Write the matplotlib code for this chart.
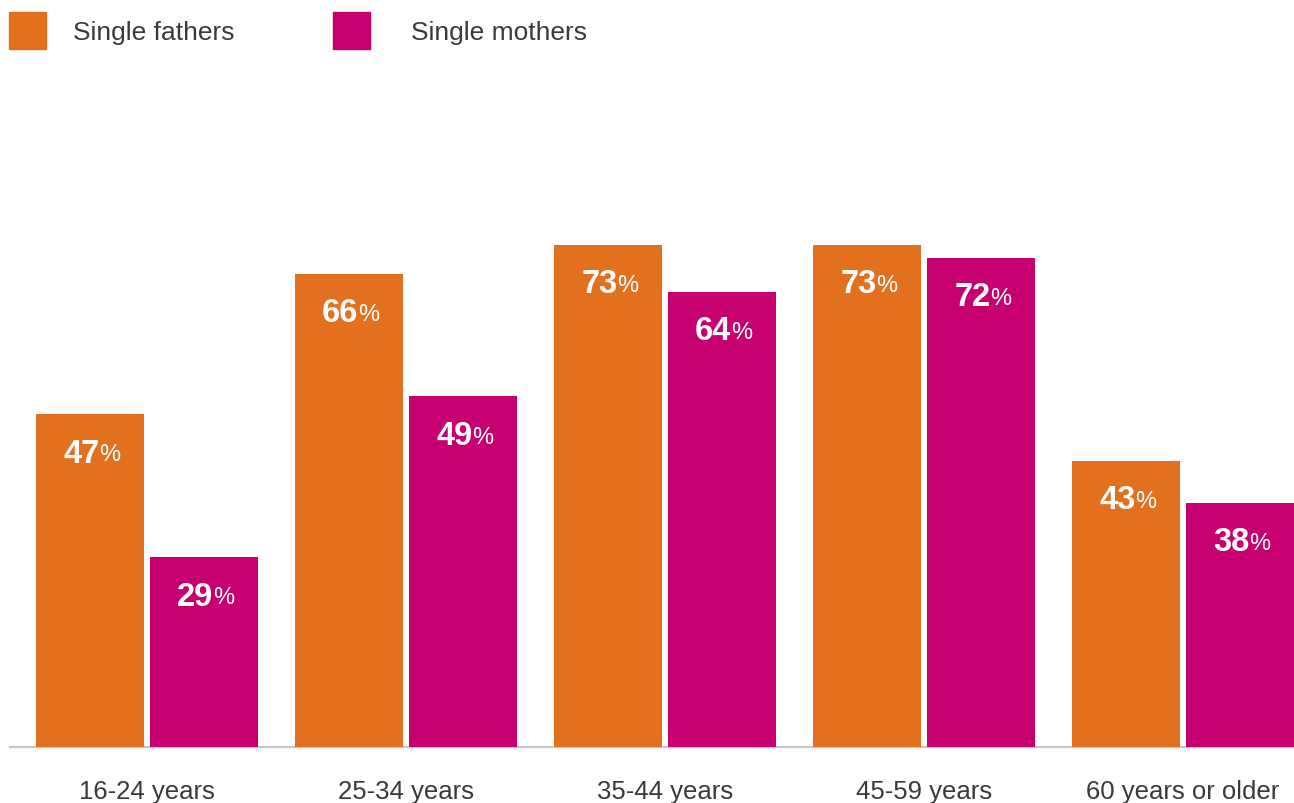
import numpy as np
import matplotlib.pyplot as plt

plt.rcParams['font.family'] = ['Liberation Sans', 'DejaVu Sans']

groups = ['16-24 years', '25-34 years', '35-44 years', '45-59 years', '60 years or older']
fathers_label = [47, 66, 73, 73, 43]
mothers_label = [29, 49, 64, 72, 38]
# bar heights as drawn
fathers = [48.4, 68.8, 73.0, 73.0, 41.6]
mothers = [27.6, 51.0, 66.2, 71.1, 35.5]

orange = '#E2701F'
magenta = '#C6006E'

fig = plt.figure(figsize=(12.94, 8.04), dpi=100)
ax = fig.add_axes([10/1294, 1 - 748/804, 1284/1294, 687.7/804])

x = np.arange(len(groups))
w = 108/259
off = 57/259
b1 = ax.bar(x - off, fathers, w, color=orange, zorder=3)
b2 = ax.bar(x + off, mothers, w, color=magenta, zorder=3)

ax.set_xlim((10 - 146.6)/259, (1294 - 146.6)/259)
ax.set_ylim(0, 100)
for s in ['top', 'right', 'left']:
    ax.spines[s].set_visible(False)
ax.spines['bottom'].set_color('#c8c8c8')
ax.spines['bottom'].set_linewidth(1.6)
ax.set_yticks([])
ax.set_xticks(x)
ax.set_xticklabels(groups, fontsize=18.5, color='#3a3a3a')
ax.tick_params(axis='x', length=0, pad=23)

def label(xpos, h, v):
    ax.annotate(str(v), (xpos, h), xytext=(7, -28), textcoords='offset points',
                ha='right', va='center', color='white', fontsize=23.5, fontweight='bold', zorder=4)
    ax.annotate('%', (xpos, h), xytext=(6.5, -29), textcoords='offset points',
                ha='left', va='center', color='white', fontsize=17, zorder=4)

for i in range(len(groups)):
    label(x[i] - off, fathers[i], fathers_label[i])
    label(x[i] + off, mothers[i], mothers_label[i])

# legend
fig.patches.append(plt.Rectangle((9/1294, 1 - 50/804), 37/1294, 37/804,
                                 transform=fig.transFigure, color=orange))
fig.patches.append(plt.Rectangle((333/1294, 1 - 50/804), 37/1294, 37/804,
                                 transform=fig.transFigure, color=magenta))
fig.text(73/1294, 1 - 33/804, 'Single fathers', fontsize=19, color='#3a3a3a', va='center')
fig.text(411/1294, 1 - 33/804, 'Single mothers', fontsize=19, color='#3a3a3a', va='center')

fig.savefig('out.png', dpi=100)
